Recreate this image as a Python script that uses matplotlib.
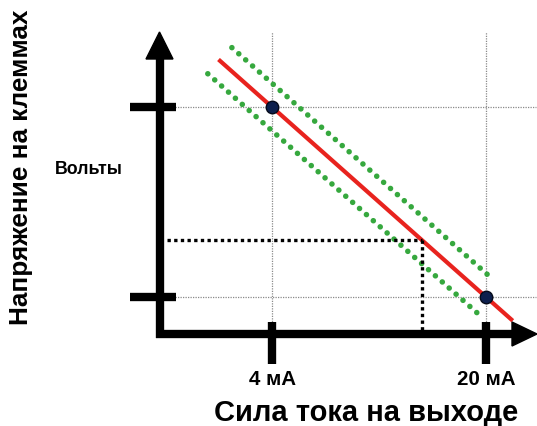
import matplotlib
matplotlib.use("Agg")
import matplotlib.pyplot as plt
from matplotlib.patches import Polygon

plt.rcParams['font.family'] = ['Liberation Sans', 'DejaVu Sans']

# ---- data (normalised units: current in mA, voltage 0..1) ----
current_ticks = [4, 20]
current_labels = ["4 мА", "20 мА"]
volt_ticks = [1.0, 0.0]          # voltage at 4 mA and at 20 mA
line_current = [0, 22]           # extent of the red characteristic
upper_band_current = [1.0, 20.1]  # extent of upper tolerance line
lower_band_current = [-0.8, 19.7] # extent of lower tolerance line
band_offset = 0.125              # tolerance band (dotted green)
measured_current = 15.2          # dotted black read-out
y_label = "Напряжение на клеммах"
y_unit = "Вольты"
x_label = "Сила тока на выходе"

def volts(i):
    # linear characteristic through (4 mA, 1) and (20 mA, 0)
    return volt_ticks[0] + (i - current_ticks[0]) * (volt_ticks[1] - volt_ticks[0]) / (current_ticks[1] - current_ticks[0])

W, H = 537, 427
fig = plt.figure(figsize=(W / 100, H / 100), dpi=100)
ax = fig.add_axes([0, 0, 1, 1])
# map pixels to data: x px = 218.5 + 13.375*mA ; y px = 298 - 190*V
ax.set_xlim((0 - 218.5) / 13.375, (W - 218.5) / 13.375)
ax.set_ylim((298 - H) / 190, (298 - 0) / 190)
ax.axis('off')

def px2d(px, py):
    return ((px - 218.5) / 13.375, (298 - py) / 190)

x0 = px2d(160, 0)[0]             # y-axis position
y0 = px2d(0, 335)[1]             # x-axis position
xright = px2d(W - 1, 0)[0]
AX_LW = 6

# grid lines (gray dotted)
for c in current_ticks:
    ax.plot([c, c], [y0, px2d(0, 33)[1]], color='#8a8a8a', lw=0.9, ls=(0, (1, 1)), zorder=1)
for v in volt_ticks:
    ax.plot([px2d(175, 0)[0], xright], [v, v], color='#8a8a8a', lw=0.9, ls=(0, (1, 1)), zorder=1)

# tolerance band
for s, xs in ((+1, upper_band_current), (-1, lower_band_current)):
    ys = [volts(x) + s * band_offset for x in xs]
    ax.plot(xs, ys, color='#36a83e', lw=4.0, ls=(0, (0.01, 1.65)), dash_capstyle='round', zorder=2)

# red characteristic
ax.plot(line_current, [volts(x) for x in line_current], color='#e8231e', lw=3.0,
        solid_capstyle='butt', zorder=3)

# read-out dotted black
vm = volts(measured_current)
ax.plot([px2d(167, 0)[0], measured_current], [vm, vm], color='black', lw=2.4,
        ls=(0, (1, 1.0)), zorder=4)
ax.plot([measured_current, measured_current], [vm, px2d(0, 332)[1]], color='black', lw=2.4,
        ls=(0, (1, 1.0)), zorder=4)

# calibration points
ax.plot(current_ticks, volt_ticks, 'o', ms=9, color='#0d1f4d', mec='#050a1a', mew=1, zorder=5)

# axes
ax.plot([x0, x0], [y0, px2d(0, 55)[1]], color='black', lw=AX_LW, solid_capstyle='butt', zorder=6)
ax.plot([x0, px2d(W - 22, 0)[0]], [y0, y0], color='black', lw=AX_LW, solid_capstyle='butt', zorder=6)
ax.plot([px2d(156, 0)[0], x0], [y0, y0], color='black', lw=AX_LW, solid_capstyle='butt', zorder=6)
ax.plot([x0, x0], [px2d(0, 339)[1], y0], color='black', lw=AX_LW, solid_capstyle='butt', zorder=6)

ax.add_patch(Polygon([px2d(146, 60), px2d(173, 60), px2d(159.5, 33)], closed=True,
                     color='black', zorder=7))
ax.add_patch(Polygon([px2d(512, 323), px2d(512, 347), px2d(537, 335)], closed=True,
                     color='black', zorder=7))

# tick marks
for c in current_ticks:
    ax.plot([c, c], [px2d(0, 323)[1], px2d(0, 365)[1]], color='black', lw=AX_LW,
            solid_capstyle='butt', zorder=6)
for v in volt_ticks:
    ax.plot([px2d(130, 0)[0], px2d(176, 0)[0]], [v, v], color='black', lw=AX_LW,
            solid_capstyle='butt', zorder=6)

# labels
for c, lab in zip(current_ticks, current_labels):
    ax.text(c, px2d(0, 380)[1], lab, ha='center', va='center', fontsize=14.8, fontweight='bold')
ax.text(*px2d(366, 413), x_label, ha='center', va='center', fontsize=21, fontweight='bold')
ax.text(*px2d(21, 167.5), y_label, ha='center', va='center', rotation=90, fontsize=18.8,
        fontweight='bold')
ax.text(*px2d(89, 170), y_unit, ha='center', va='center', fontsize=12.8, fontweight='bold')

fig.savefig("out.png", dpi=100)
